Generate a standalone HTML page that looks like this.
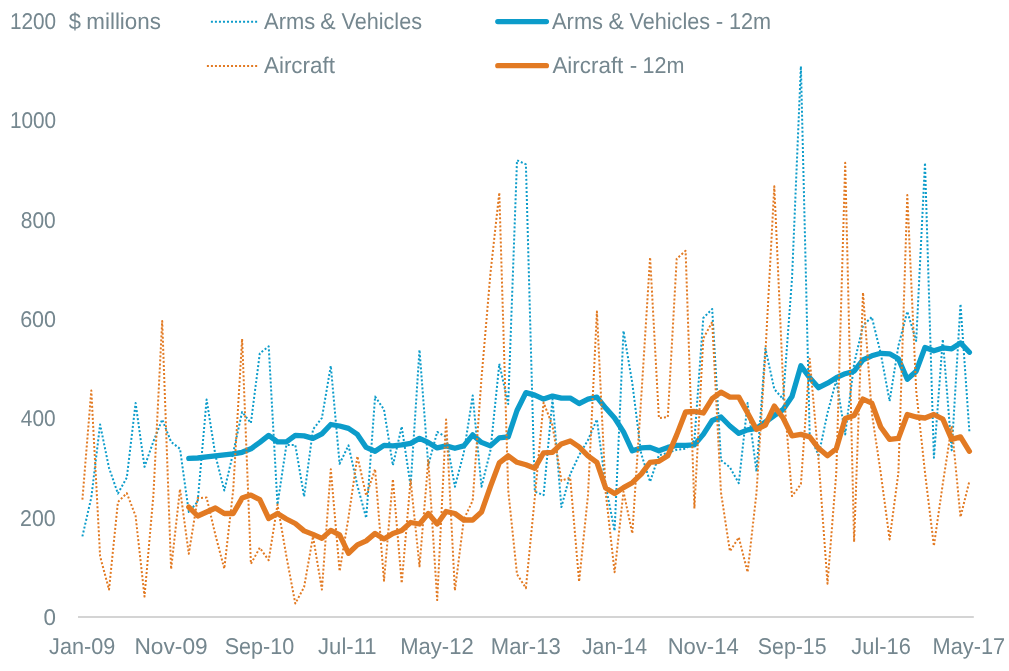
<!DOCTYPE html>
<html lang="en"><head><meta charset="utf-8"><title>Arms &amp; Vehicles / Aircraft</title>
<style>html,body{margin:0;padding:0;background:#fff}body{width:1009px;height:671px;overflow:hidden}svg{display:block}text{text-rendering:geometricPrecision;font-family:"Liberation Sans",sans-serif;font-size:22.8px;fill:#75878f}</style></head><body>
<svg width="1009" height="671" viewBox="0 0 1009 671">
<rect width="1009" height="671" fill="#fff"/>
<line x1="78" y1="616.9" x2="973.8" y2="616.9" stroke="#d4d4d4" stroke-width="2"/>
<text id="y1200" x="9.91" y="28.8" textLength="46.25" lengthAdjust="spacingAndGlyphs">1200</text>
<text id="y1000" x="9.91" y="128.2" textLength="46.25" lengthAdjust="spacingAndGlyphs">1000</text>
<text id="y800" x="20.73" y="227.5" textLength="35.02" lengthAdjust="spacingAndGlyphs">800</text>
<text id="y600" x="20.15" y="326.9" textLength="35.93" lengthAdjust="spacingAndGlyphs">600</text>
<text id="y400" x="20.82" y="426.2" textLength="34.87" lengthAdjust="spacingAndGlyphs">400</text>
<text id="y200" x="20.12" y="525.6" textLength="35.60" lengthAdjust="spacingAndGlyphs">200</text>
<text id="y0" x="43.39" y="624.9" textLength="12.48" lengthAdjust="spacingAndGlyphs">0</text>
<text id="unit1" x="68.67" y="28.8" textLength="12.21" lengthAdjust="spacingAndGlyphs">$</text>
<text id="unit2" x="86.30" y="28.8" textLength="74.61" lengthAdjust="spacingAndGlyphs">millions</text>
<text id="l1a" x="264.03" y="28.5" textLength="51.11" lengthAdjust="spacingAndGlyphs">Arms</text>
<text id="l1b" x="320.32" y="28.5" textLength="15.39" lengthAdjust="spacingAndGlyphs">&amp;</text>
<text id="l1c" x="341.47" y="28.5" textLength="80.52" lengthAdjust="spacingAndGlyphs">Vehicles</text>
<text id="l2" x="263.96" y="72.8" textLength="71.03" lengthAdjust="spacingAndGlyphs">Aircraft</text>
<text id="l3a" x="552.02" y="28.5" textLength="51.04" lengthAdjust="spacingAndGlyphs">Arms</text>
<text id="l3b" x="608.59" y="28.5" textLength="15.35" lengthAdjust="spacingAndGlyphs">&amp;</text>
<text id="l3c" x="629.44" y="28.5" textLength="80.65" lengthAdjust="spacingAndGlyphs">Vehicles</text>
<text id="l3d" x="715.69" y="28.5" textLength="7.47" lengthAdjust="spacingAndGlyphs">-</text>
<text id="l3e" x="729.04" y="28.5" textLength="42.14" lengthAdjust="spacingAndGlyphs">12m</text>
<text id="l4a" x="552.44" y="72.8" textLength="70.90" lengthAdjust="spacingAndGlyphs">Aircraft</text>
<text id="l4b" x="629.63" y="72.8" textLength="7.49" lengthAdjust="spacingAndGlyphs">-</text>
<text id="l4c" x="642.50" y="72.8" textLength="41.95" lengthAdjust="spacingAndGlyphs">12m</text>
<text id="x0" x="49.12" y="653.6" textLength="66.15" lengthAdjust="spacingAndGlyphs">Jan-09</text>
<text id="x1" x="134.43" y="653.6" textLength="73.29" lengthAdjust="spacingAndGlyphs">Nov-09</text>
<text id="x2" x="224.73" y="653.6" textLength="69.59" lengthAdjust="spacingAndGlyphs">Sep-10</text>
<text id="x3" x="318.07" y="653.6" textLength="58.53" lengthAdjust="spacingAndGlyphs">Jul-11</text>
<text id="x4" x="400.28" y="653.6" textLength="73.42" lengthAdjust="spacingAndGlyphs">May-12</text>
<text id="x5" x="490.82" y="653.6" textLength="69.86" lengthAdjust="spacingAndGlyphs">Mar-13</text>
<text id="x6" x="581.93" y="653.6" textLength="65.16" lengthAdjust="spacingAndGlyphs">Jan-14</text>
<text id="x7" x="667.69" y="653.6" textLength="71.00" lengthAdjust="spacingAndGlyphs">Nov-14</text>
<text id="x8" x="757.86" y="653.6" textLength="68.68" lengthAdjust="spacingAndGlyphs">Sep-15</text>
<text id="x9" x="851.37" y="653.6" textLength="59.43" lengthAdjust="spacingAndGlyphs">Jul-16</text>
<text id="x10" x="932.56" y="653.6" textLength="72.57" lengthAdjust="spacingAndGlyphs">May-17</text>
<polyline points="82.4,536.4 91.3,497.6 100.1,424.5 109.0,467.8 117.9,493.6 126.8,477.7 135.6,403.1 144.5,466.8 153.4,441.4 162.2,419.5 171.1,441.9 180.0,448.8 188.8,512.0 197.7,501.6 206.6,399.6 215.4,455.3 224.3,490.6 233.2,452.8 242.1,412.0 250.9,423.0 259.8,353.3 268.7,346.4 277.5,504.6 286.4,444.9 295.3,444.9 304.1,496.6 313.0,429.4 321.9,418.0 330.8,365.8 339.6,463.8 348.5,445.4 357.4,485.7 366.2,518.0 375.1,396.6 384.0,409.5 392.9,465.3 401.7,426.5 410.6,485.7 419.5,349.8 428.3,465.3 437.2,431.9 446.1,436.9 454.9,486.7 463.8,452.8 472.7,395.6 481.5,486.7 490.4,450.8 499.3,363.8 508.2,404.1 517.0,160.3 525.9,164.3 534.8,491.6 543.6,495.1 552.5,399.1 561.4,507.1 570.2,474.2 579.1,455.3 588.0,439.9 596.9,419.5 605.7,485.7 614.6,530.9 623.5,330.9 632.3,383.2 641.2,453.8 650.1,481.7 658.9,455.3 667.8,452.8 676.7,449.8 685.6,448.8 694.4,440.4 703.3,318.0 712.2,309.0 721.0,460.3 729.9,467.3 738.8,483.2 747.6,403.1 756.5,471.7 765.4,348.4 774.3,389.1 783.1,399.1 792.0,278.7 800.9,66.3 809.7,435.4 818.6,455.3 827.5,413.0 836.3,380.2 845.2,434.4 854.1,363.8 863.0,325.5 871.8,317.0 880.7,353.3 889.6,401.1 898.4,345.9 907.3,311.5 916.2,340.9 925.0,162.8 933.9,457.8 942.8,339.4 951.7,450.3 960.5,304.1 969.4,431.9" fill="none" stroke="#0c9cca" stroke-width="2.0" stroke-dasharray="2 2.02" stroke-linejoin="round"/>
<polyline points="188.8,458.3 197.7,458.0 206.6,456.8 215.4,455.8 224.3,454.8 233.2,453.8 242.1,452.3 250.9,448.8 259.8,442.4 268.7,435.4 277.5,441.9 286.4,441.9 295.3,435.4 304.1,435.9 313.0,438.4 321.9,433.9 330.8,424.5 339.6,426.0 348.5,428.4 357.4,434.4 366.2,447.4 375.1,451.3 384.0,445.4 392.9,445.9 401.7,444.9 410.6,443.4 419.5,438.4 428.3,442.4 437.2,447.9 446.1,445.9 454.9,448.3 463.8,445.9 472.7,434.9 481.5,442.4 490.4,445.9 499.3,437.9 508.2,436.9 517.0,410.5 525.9,392.6 534.8,395.1 543.6,399.1 552.5,396.1 561.4,398.1 570.2,398.1 579.1,403.6 588.0,399.1 596.9,397.1 605.7,408.1 614.6,418.0 623.5,431.9 632.3,450.8 641.2,447.9 650.1,447.4 658.9,450.8 667.8,447.4 676.7,445.4 685.6,445.4 694.4,444.9 703.3,434.4 712.2,420.5 721.0,417.0 729.9,426.0 738.8,433.4 747.6,429.9 756.5,428.4 765.4,422.0 774.3,415.5 783.1,409.5 792.0,396.6 800.9,365.8 809.7,377.7 818.6,387.7 827.5,383.2 836.3,377.7 845.2,373.7 854.1,371.2 863.0,359.8 871.8,355.8 880.7,353.3 889.6,353.8 898.4,358.8 907.3,379.2 916.2,371.2 925.0,347.4 933.9,350.8 942.8,347.9 951.7,348.8 960.5,342.9 969.4,352.3" fill="none" stroke="#0c9cca" stroke-width="5.3" stroke-linecap="round" stroke-linejoin="round"/>
<polyline points="82.4,499.6 91.3,390.6 100.1,556.3 109.0,589.6 117.9,502.1 126.8,493.1 135.6,516.0 144.5,596.6 153.4,495.1 162.2,321.0 171.1,569.2 180.0,489.1 188.8,553.8 197.7,498.1 206.6,497.6 215.4,534.9 224.3,568.7 233.2,490.1 242.1,338.9 250.9,563.8 259.8,547.8 268.7,560.3 277.5,504.6 286.4,556.3 295.3,603.6 304.1,587.1 313.0,536.4 321.9,589.6 330.8,469.2 339.6,571.2 348.5,517.5 357.4,456.3 366.2,495.6 375.1,469.2 384.0,580.7 392.9,479.2 401.7,583.2 410.6,480.2 419.5,566.3 428.3,460.3 437.2,600.1 446.1,419.5 454.9,590.6 463.8,519.5 472.7,500.6 481.5,378.2 490.4,273.7 499.3,192.6 508.2,490.1 517.0,574.2 525.9,588.1 534.8,497.6 543.6,402.6 552.5,425.5 561.4,480.7 570.2,477.7 579.1,581.7 588.0,495.1 596.9,311.5 605.7,492.6 614.6,572.2 623.5,491.6 632.3,533.4 641.2,398.1 650.1,257.3 658.9,418.0 667.8,417.0 676.7,258.8 685.6,250.8 694.4,508.5 703.3,338.4 712.2,322.0 721.0,492.6 729.9,551.3 738.8,537.4 747.6,572.2 756.5,492.6 765.4,353.3 774.3,186.2 783.1,383.2 792.0,496.1 800.9,484.2 809.7,358.8 818.6,460.3 827.5,583.7 836.3,472.7 845.2,162.8 854.1,541.9 863.0,292.6 871.8,413.0 880.7,472.7 889.6,539.4 898.4,472.7 907.3,195.1 916.2,390.6 925.0,472.7 933.9,545.9 942.8,483.7 951.7,426.0 960.5,517.0 969.4,481.2" fill="none" stroke="#e27a23" stroke-width="2.0" stroke-dasharray="2 2.02" stroke-linejoin="round"/>
<polyline points="188.8,507.1 197.7,516.0 206.6,512.0 215.4,508.0 224.3,513.5 233.2,513.5 242.1,498.1 250.9,495.1 259.8,499.6 268.7,518.5 277.5,513.5 286.4,519.0 295.3,523.5 304.1,530.9 313.0,534.4 321.9,538.4 330.8,530.4 339.6,534.9 348.5,553.3 357.4,544.9 366.2,540.9 375.1,533.4 384.0,538.9 392.9,533.4 401.7,530.4 410.6,522.5 419.5,524.0 428.3,513.5 437.2,524.0 446.1,511.5 454.9,513.5 463.8,520.0 472.7,520.0 481.5,512.0 490.4,486.7 499.3,462.8 508.2,455.8 517.0,462.3 525.9,464.8 534.8,468.2 543.6,452.8 552.5,452.3 561.4,443.9 570.2,440.9 579.1,446.9 588.0,455.8 596.9,462.3 605.7,488.1 614.6,493.6 623.5,487.6 632.3,482.7 641.2,474.2 650.1,462.3 658.9,461.3 667.8,455.8 676.7,434.9 685.6,412.0 694.4,411.5 703.3,413.0 712.2,398.6 721.0,392.1 729.9,397.1 738.8,397.1 747.6,413.0 756.5,429.4 765.4,425.0 774.3,406.1 783.1,418.0 792.0,435.9 800.9,434.4 809.7,436.9 818.6,448.3 827.5,455.8 836.3,448.8 845.2,418.5 854.1,415.5 863.0,399.1 871.8,403.1 880.7,427.0 889.6,439.4 898.4,438.4 907.3,414.5 916.2,417.0 925.0,418.0 933.9,414.5 942.8,419.0 951.7,439.4 960.5,436.9 969.4,451.3" fill="none" stroke="#e27a23" stroke-width="5.3" stroke-linecap="round" stroke-linejoin="round"/>
<line x1="210.9" y1="21.8" x2="257.3" y2="21.8" stroke="#0c9cca" stroke-width="2.0" stroke-dasharray="2 2.02"/>
<line x1="206.9" y1="66" x2="257.3" y2="66" stroke="#e27a23" stroke-width="2.0" stroke-dasharray="2 2.02"/>
<line x1="497.8" y1="21.6" x2="546.4" y2="21.6" stroke="#0c9cca" stroke-width="5.3" stroke-linecap="round"/>
<line x1="497.8" y1="65.7" x2="546.4" y2="65.7" stroke="#e27a23" stroke-width="5.3" stroke-linecap="round"/>
</svg></body></html>
